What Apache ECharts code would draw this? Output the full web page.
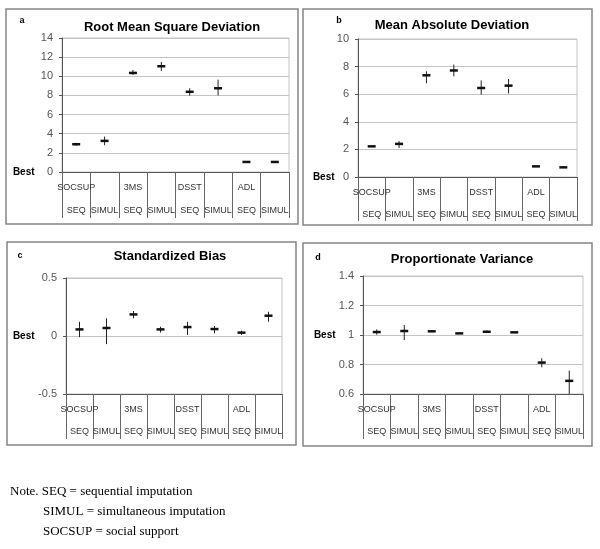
<!DOCTYPE html>
<html>
<head>
<meta charset="utf-8">
<title>Imputation comparison</title>
<script src="https://cdn.jsdelivr.net/npm/echarts@6/dist/echarts.min.js"></script>
<style>
    html, body { margin: 0; padding: 0; background: #fff; }
    #main { width: 600px; height: 549px; }
</style>
</head>
<body>
<div id="main"></div>
<script>
// 分类
var groups = ['SOCSUP', '3MS', 'DSST', 'ADL'];
var methods = ['SEQ', 'SIMUL'];

// a: Root Mean Square Deviation
var rmsdMean = [2.9, 3.25, 10.35, 11.05, 8.38, 8.75, 1.05, 1.05];
var rmsdLow = [2.75, 2.8, 10.14, 10.56, 7.98, 8.0, 1.02, 1.02];
var rmsdHigh = [3.05, 3.7, 10.66, 11.5, 8.75, 9.65, 1.08, 1.08];
var rmsdTicks = [0, 14, 2];

// b: Mean Absolute Deviation
var madMean = [2.22, 2.4, 7.37, 7.72, 6.45, 6.62, 0.77, 0.7];
var madLow = [2.19, 2.1, 6.8, 7.3, 5.97, 6.05, 0.75, 0.68];
var madHigh = [2.25, 2.6, 7.66, 8.15, 7.0, 7.1, 0.79, 0.72];
var madTicks = [0, 10, 2];

// c: Standardized Bias
var biasMean = [0.057, 0.069, 0.186, 0.057, 0.077, 0.06, 0.029, 0.175];
var biasLow = [-0.01, -0.07, 0.152, 0.03, 0.009, 0.023, 0.009, 0.123];
var biasHigh = [0.123, 0.152, 0.215, 0.08, 0.123, 0.086, 0.046, 0.209];
var biasTicks = [-0.5, 0.5, 0.5];

// d: Proportionate Variance
var pvMean = [1.02, 1.027, 1.025, 1.011, 1.022, 1.018, 0.813, 0.689];
var pvLow = [1.002, 0.966, 1.021, 1.008, 1.013, 1.014, 0.781, 0.601];
var pvHigh = [1.038, 1.068, 1.029, 1.014, 1.031, 1.022, 0.842, 0.759];
var pvTicks = [0.6, 1.4, 0.2];

// 图注
var noteLines = [
    'Note. SEQ = sequential imputation',
    'SIMUL = simultaneous imputation',
    'SOCSUP = social support'
];

(function() {
    var myChart = echarts.init(document.getElementById('main'));

    // 拼出8个类别
    var cats = [];
    var topLabels = [];
    groups.forEach(function(g) {
        methods.forEach(function(m, j) {
            cats.push(m);
            topLabels.push(j === 0 ? g : '');
        });
    });

    // 面板布局
    var panels = [
        { letter: 'a', title: 'Root Mean Square Deviation', mean: rmsdMean, low: rmsdLow, high: rmsdHigh, ticks: rmsdTicks, best: 0,
          box: [6, 9, 292, 215], grid: [62, 38, 227, 134], titlePos: [172, 27], letterPos: [22, 21], bestW: 34, tick: 46, m2: 34 },
        { letter: 'b', title: 'Mean Absolute Deviation', mean: madMean, low: madLow, high: madHigh, ticks: madTicks, best: 0,
          box: [303, 9, 289, 216], grid: [358, 39, 219, 138], titlePos: [452, 25], letterPos: [339, 21], bestW: 30, tick: 44, m2: 33 },
        { letter: 'c', title: 'Standardized Bias', mean: biasMean, low: biasLow, high: biasHigh, ticks: biasTicks, best: 0,
          box: [7, 242, 289, 203], grid: [66, 278, 216, 116], titlePos: [170, 256], letterPos: [20, 256], bestW: 38, tick: 45, m2: 33 },
        { letter: 'd', title: 'Proportionate Variance', mean: pvMean, low: pvLow, high: pvHigh, ticks: pvTicks, best: 1,
          box: [303, 243, 289, 203], grid: [363, 276, 220, 118], titlePos: [462, 259], letterPos: [318, 258], bestW: 34, tick: 45, m2: 33 }
    ];

    // 误差线 + 均值短横
    function renderErr(params, api) {
        var x = api.value(0);
        var mid = api.coord([x, api.value(1)]);
        var lo = api.coord([x, api.value(2)]);
        var hi = api.coord([x, api.value(3)]);
        return {
            type: 'group',
            children: [{
                type: 'line',
                shape: { x1: mid[0], y1: hi[1], x2: mid[0], y2: lo[1] },
                style: { stroke: '#222', lineWidth: 1 }
            }, {
                type: 'line',
                shape: { x1: mid[0] - 4, y1: mid[1], x2: mid[0] + 4, y2: mid[1] },
                style: { stroke: '#111', lineWidth: 2.5 }
            }]
        };
    }

    var grid = [], xAxis = [], yAxis = [], series = [], graphic = [];

    panels.forEach(function(p, i) {
        graphic.push({
            type: 'rect',
            shape: { x: p.box[0], y: p.box[1], width: p.box[2], height: p.box[3] },
            style: { fill: 'none', stroke: '#858585', lineWidth: 1.5 },
            z: 1
        });
        graphic.push({
            type: 'text',
            x: p.titlePos[0], y: p.titlePos[1],
            style: { text: p.title, font: 'bold 13px "Liberation Sans", Arial, sans-serif', fill: '#000',
                     textAlign: 'center', textVerticalAlign: 'middle' }
        });
        graphic.push({
            type: 'text',
            x: p.letterPos[0], y: p.letterPos[1],
            style: { text: p.letter, font: 'bold 9px "Liberation Sans", Arial, sans-serif', fill: '#000',
                     textAlign: 'center', textVerticalAlign: 'middle' }
        });

        grid.push({
            left: p.grid[0], top: p.grid[1], width: p.grid[2], height: p.grid[3],
            show: true, borderColor: '#c4c4c4', borderWidth: 1,
            outerBoundsMode: 'none', containLabel: false
        });

        // 下层: SEQ / SIMUL
        xAxis.push({
            type: 'category', gridIndex: i, data: cats, position: 'bottom',
            boundaryGap: true,
            axisLine: { show: true, onZero: false, lineStyle: { color: '#555', width: 1 } },
            axisTick: { show: true, interval: 0, alignWithLabel: false, length: p.tick, lineStyle: { color: '#666', width: 1 } },
            axisLabel: { interval: 0, margin: p.m2, fontSize: 9, color: '#333',
                         fontFamily: '"Liberation Sans", Arial, sans-serif' },
            splitLine: { show: false }
        });
        // 上层: 组名
        xAxis.push({
            type: 'category', gridIndex: i, data: topLabels, position: 'bottom',
            boundaryGap: true,
            axisLine: { show: false }, axisTick: { show: false },
            axisLabel: { interval: 0, margin: 11, fontSize: 9, color: '#333',
                         fontFamily: '"Liberation Sans", Arial, sans-serif' },
            splitLine: { show: false }
        });

        yAxis.push({
            type: 'value', gridIndex: i,
            min: p.ticks[0], max: p.ticks[1], interval: p.ticks[2],
            axisLine: { show: true, lineStyle: { color: '#555' } },
            axisTick: { show: true, length: 3, lineStyle: { color: '#555' } },
            splitLine: { show: true, lineStyle: { color: '#c4c4c4' } },
            axisLabel: {
                margin: 9, color: '#555', fontSize: 11,
                fontFamily: '"Liberation Sans", Arial, sans-serif',
                formatter: function(v) {
                    return Math.abs(v - p.best) < 1e-9 ? '{b|Best}{n|' + v + '}' : String(v);
                },
                rich: {
                    b: { fontWeight: 'bold', fontSize: 10, color: '#000', width: p.bestW, align: 'left',
                         fontFamily: '"Liberation Sans", Arial, sans-serif' },
                    n: { fontSize: 11, color: '#555', fontFamily: '"Liberation Sans", Arial, sans-serif' }
                }
            }
        });

        series.push({
            type: 'custom',
            xAxisIndex: i * 2,
            yAxisIndex: i,
            renderItem: renderErr,
            encode: { x: 0, y: [1, 2, 3] },
            data: p.mean.map(function(m, k) {
                return [k, m, p.low[k], p.high[k]];
            }),
            z: 5
        });
    });

    // 图注
    noteLines.forEach(function(t, k) {
        graphic.push({
            type: 'text',
            x: k === 0 ? 10 : 43, y: 492 + k * 20,
            style: { text: t, font: '13px "Liberation Serif", "Times New Roman", serif', fill: '#000',
                     textVerticalAlign: 'middle' }
        });
    });

    var option = {
        animation: false,
        backgroundColor: '#fff',
        grid: grid,
        xAxis: xAxis,
        yAxis: yAxis,
        series: series,
        graphic: graphic
    };
    myChart.setOption(option);
})();
</script>
</body>
</html>
